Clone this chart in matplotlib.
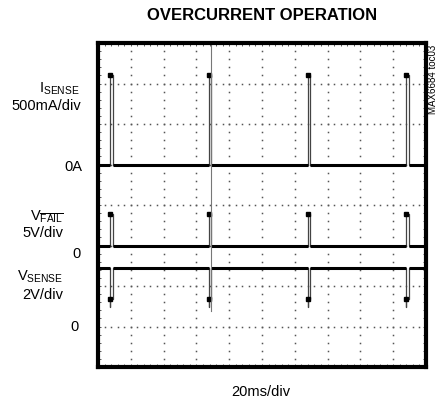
import numpy as np
import matplotlib
matplotlib.use("Agg")
import matplotlib.pyplot as plt

plt.rcParams['font.family'] = ['Liberation Sans Narrow', 'Liberation Sans', 'DejaVu Sans']
plt.rcParams['mathtext.fontset'] = 'custom'
plt.rcParams['mathtext.rm'] = 'Liberation Sans'
plt.rcParams['mathtext.it'] = 'Liberation Sans'

# scope settings: 10 x 20ms horizontal, 8 vertical divisions
ms_per_div = 20.0
n_xdiv = 10
n_ydiv = 8

# pulse events (ms)
pulse_t = [7.5, 67.5, 128.0, 188.0]
pulse_w = 1.5

# channel data
isense_base = 0.0      # A
isense_peak = 1.1      # A
isense_scale = 0.5     # A/div
isense_zero = 5        # div

vfail_base = 0.0       # V
vfail_high = 3.9       # V
vfail_scale = 5.0      # V/div
vfail_zero = 3

vsense_base = 2.9      # V
vsense_low = 1.35      # V
vsense_spike = 0.95    # V
vsense_scale = 2.0     # V/div
vsense_zero = 1

trigger_t = 68.6       # ms
trigger_bottom = 1.38  # div


def pulse_trace(base, top, start=None):
    t = [0.0]
    v = [base]
    for p in pulse_t:
        t += [p, p]
        if start is None:
            v += [base, top]
        else:
            t += [p]
            v += [base, start, top]
        t += [p + pulse_w, p + pulse_w]
        v += [top, base]
    t.append(n_xdiv * ms_per_div)
    v.append(base)
    return np.array(t), np.array(v)


fig = plt.figure(figsize=(4.43, 4.0), dpi=100)
ax = fig.add_axes([98 / 443, 33 / 400, 328 / 443, 324 / 400])
ax.set_xlim(0, n_xdiv)
ax.set_ylim(0, n_ydiv)

# dotted graticule
minor = np.arange(0, n_ydiv + 0.01, 0.2)
for gx in range(1, n_xdiv):
    ax.plot(np.full_like(minor, gx), minor, ls='none', marker='s', ms=1.1,
            color='#555555', mew=0)
minor_x = np.arange(0, n_xdiv + 0.01, 0.2)
for gy in range(1, n_ydiv):
    ax.plot(minor_x, np.full_like(minor_x, gy), ls='none', marker='s', ms=1.1,
            color='#555555', mew=0)

traces = [
    (pulse_trace(isense_base, isense_peak), isense_zero, isense_scale, isense_base, isense_peak),
    (pulse_trace(vfail_base, vfail_high), vfail_zero, vfail_scale, vfail_base, vfail_high),
    (pulse_trace(vsense_base, vsense_low, vsense_spike), vsense_zero, vsense_scale, vsense_base, vsense_low),
]

edges = [0.0] + [e for p in pulse_t for e in (p, p + pulse_w)] + [n_xdiv * ms_per_div]
for (t, v), zero, scale, base, level in traces:
    ax.plot(t / ms_per_div, zero + v / scale, color='#444444', lw=0.9)
    # thick baseline between pulses
    yb = zero + base / scale
    for a, b in zip(edges[0::2], edges[1::2]):
        ax.plot([a / ms_per_div, b / ms_per_div], [yb, yb], color='black', lw=2.2,
                solid_capstyle='butt')
    ax.plot(np.array(pulse_t) / ms_per_div, np.full(len(pulse_t), zero + level / scale),
            ls='none', marker='s', ms=3, color='black')

ax.plot([trigger_t / ms_per_div] * 2, [trigger_bottom, n_ydiv], color='#777777', lw=0.8)

for s in ax.spines.values():
    s.set_linewidth(3)
ax.set_xticks(np.arange(0, n_xdiv + 0.01, 0.2))
ax.set_yticks(np.arange(0, n_ydiv + 0.01, 0.2))
ax.tick_params(direction='in', length=2, width=0.6, color='#444444', top=True, right=True,
               labelbottom=False, labelleft=False)

lab = dict(ha='right', va='center', fontsize=10.5, clip_on=False)
ax.text(-0.55, 6.86, r'I$_{\rm SENSE}$', **lab)
ax.text(-0.52, 6.45, '500mA/div', **lab)
ax.text(-0.49, 4.94, '0A', **lab)
ax.text(-1.04, 3.72, r'V$_{\overline{\rm FAIL}}$', **lab)
ax.text(-1.04, 3.31, '5V/div', **lab)
ax.text(-0.52, 2.79, '0', **lab)
ax.text(-1.07, 2.22, r'V$_{\rm SENSE}$', **lab)
ax.text(-1.07, 1.78, '2V/div', **lab)
ax.text(-0.58, 0.99, '0', **lab)

fig.text(262 / 443, 1 - 16 / 400, 'OVERCURRENT OPERATION', ha='center', va='center',
         fontsize=12, fontweight='bold')
fig.text(261 / 443, 1 - 392 / 400, '20ms/div', ha='center', va='center', fontsize=10.5)
fig.text(433 / 443, 1 - 45 / 400, 'MAX6684 toc03', rotation=90, ha='center', va='top',
         fontsize=7)

fig.savefig('out.png', dpi=100)
